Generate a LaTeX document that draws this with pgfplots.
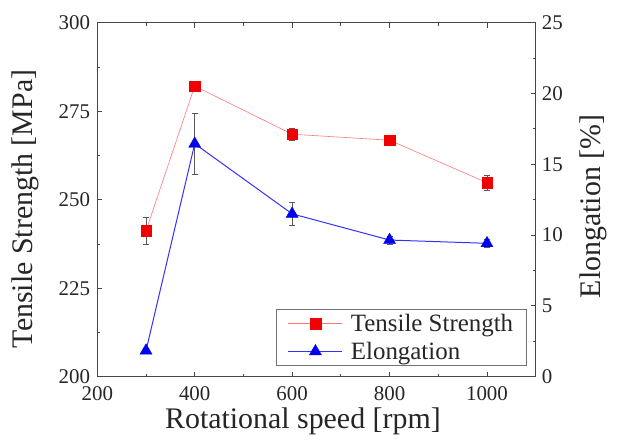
\documentclass[border=0pt]{standalone}
\usepackage{fontspec}
\setmainfont{Liberation Serif}
\usepackage{pgfplots}
\pgfplotsset{compat=1.18}

\definecolor{axgray}{RGB}{70,70,70}
\definecolor{tsline}{RGB}{255,120,120}
\definecolor{tsmark}{RGB}{240,0,0}
\definecolor{elline}{RGB}{50,50,250}
\definecolor{elmark}{RGB}{0,0,240}

\pgfplotsset{
  common/.style={
    scale only axis,
    width=438.4bp, height=354bp,
    xmin=200, xmax=1100,
    axis line style={axgray, line width=0.9bp},
    tick style={axgray, line width=0.8bp},
    tick align=inside,
    major tick length=5bp,
    minor tick length=3bp,
    /pgf/number format/assume math mode=true,
    /pgf/number format/1000 sep={},
    tick label style={font=\fontsize{21}{21}\selectfont, inner sep=0pt, text=black!85},
    label style={font=\fontsize{30}{30}\selectfont, inner sep=0pt, text=black!85},
  },
  ebar/.style={
    error bars/.cd, y dir=both, y explicit,
    error bar style={black!65, line width=0.5bp},
    error mark options={rotate=90, mark size=3bp, black!65, line width=0.5bp},
  },
}

\begin{document}
\begin{tikzpicture}
\useasboundingbox (-97.3bp,-67.3bp) rectangle (519.7bp,376.7bp);

% left axis: tensile strength
\begin{axis}[
  common,
  ymin=200, ymax=300,
  ytick={200,225,250,275,300},
  minor y tick num=1,
  xtick={200,400,600,800,1000},
  minor xtick={300,500,700,900},
  ytick pos=left,
  xtick pos=both,
  xticklabel shift=10bp,
  yticklabel shift=7bp,
  xlabel={Rotational speed [rpm]},
  ylabel={Tensile Strength [MPa]},
  xlabel style={at={(axis description cs:0.469,0)}, anchor=north, yshift=-31bp},
  ylabel style={at={(axis description cs:0,0.474)}, anchor=south, yshift=58bp},
]
\addplot+[tsline, line width=0.6bp, mark=square*,
  mark options={tsmark, fill=tsmark, mark size=5.3bp, line width=0.3bp}, ebar]
  coordinates {
  (300,241.2) +- (0,3.9)
  (400,282.1) +- (0,1.0)
  (600,268.5) +- (0,1.7)
  (800,266.8) +- (0,1.0)
  (1000,254.8) +- (0,2.0)
};
\end{axis}

% right axis: elongation
\begin{axis}[
  common,
  ymin=0, ymax=25,
  ytick={0,5,10,15,20,25},
  minor y tick num=1,
  axis x line=none,
  axis y line*=right,
  yticklabel shift=6bp,
  ylabel={Elongation [\%]},
  ylabel style={at={(axis description cs:1,0.481)}, anchor=north, yshift=-44bp},
  legend style={
    at={(axis description cs:0.980,0.030)}, anchor=south east,
    draw=black!55, line width=0.6bp,
    font=\fontsize{25}{25}\selectfont,
    inner xsep=11.5bp, inner ysep=3bp,
    row sep=5bp,
    nodes={inner sep=2bp, text=black!85},
  },
  legend cell align=left,
  legend image code/.code={
    \draw[#1, mark repeat=2, mark phase=2]
      plot coordinates {(0bp,0bp) (27bp,0bp) (54bp,0bp)};
    \path (60bp,0bp);
  },
]
\addlegendimage{tsline, line width=0.6bp, mark=square*,
  mark options={tsmark, fill=tsmark, mark size=5.3bp, line width=0.3bp}}
\addlegendentry{Tensile Strength}
\addplot+[elline, line width=1bp, mark=triangle*,
  mark options={elmark, fill=elmark, mark size=7bp, line width=0.3bp}, ebar]
  coordinates {
  (300,1.84) +- (0,0.15)
  (400,16.45) +- (0,2.12)
  (600,11.5) +- (0,0.83)
  (800,9.65) +- (0,0.3)
  (1000,9.42) +- (0,0.3)
};
\addlegendentry{Elongation}
\end{axis}
\end{tikzpicture}
\end{document}
